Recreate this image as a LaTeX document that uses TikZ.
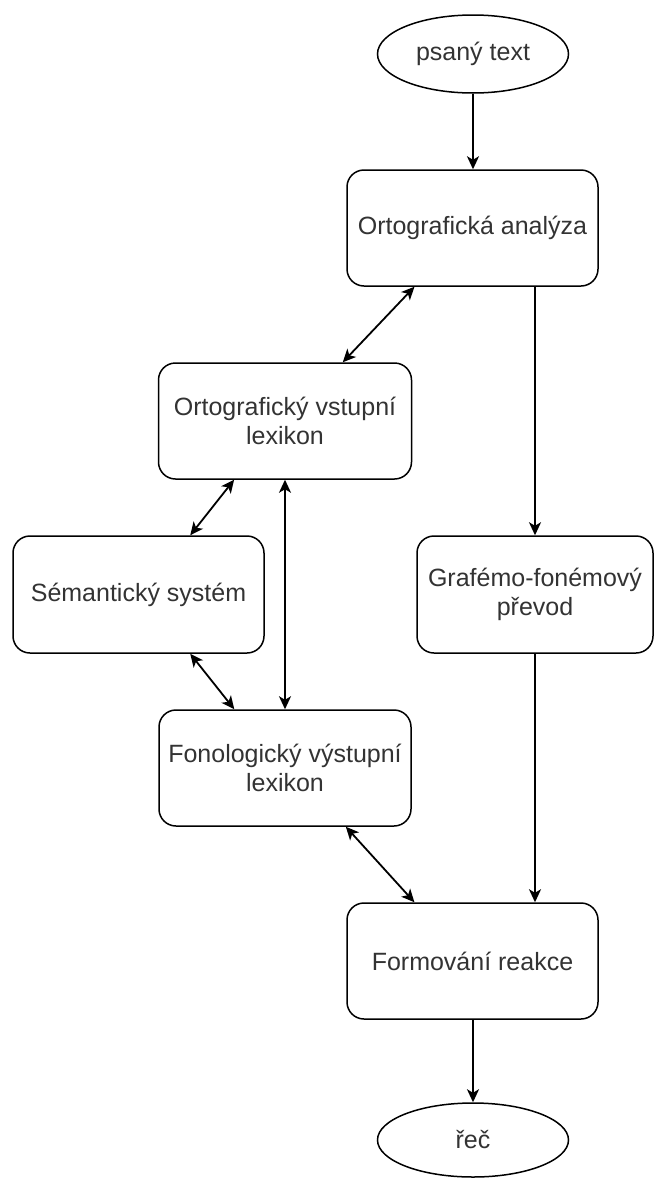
\documentclass[tikz,border=0pt]{standalone}
\usepackage{fontspec}
\setmainfont{Liberation Sans}
\usetikzlibrary{arrows.meta,shapes.geometric,calc}
\definecolor{txt}{HTML}{333333}
\tikzset{
  box/.style={draw=black, line width=1.5pt, rounded corners=17pt, minimum height=116pt, align=center, text=txt, font=\fontsize{25}{29}\selectfont, inner sep=0pt},
  oval/.style={draw=black, line width=1.5pt, ellipse, minimum width=191pt, align=center, text=txt, font=\fontsize{25}{29}\selectfont, inner sep=0pt},
  conn/.style={line width=1.8pt, -{Stealth[length=13pt,width=12pt,inset=3.5pt]}},
  biconn/.style={line width=1.8pt, {Stealth[length=13pt,width=12pt,inset=3.5pt]}-{Stealth[length=13pt,width=12pt,inset=3.5pt]}}
}
\begin{document}
\begin{tikzpicture}[x=1pt,y=-1pt]
\useasboundingbox (0,0) rectangle (654,1178);
\node[oval, minimum height=78pt] (e1) at (473,54) {psaný text};
\node[box, minimum width=251pt] (oa) at (472.5,228) {Ortografická analýza};
\node[box, minimum width=253pt] (ovl) at (285,421) {Ortografický vstupní\\lexikon};
\node[box, minimum width=251pt, minimum height=117pt] (sem) at (138.5,594.5) {Sémantický systém};
\node[box, minimum width=236pt, minimum height=117pt] (graf) at (535,594.5) {Grafémo-fonémový\\převod};
\node[box, minimum width=252pt] (fvl) at (285,768) {Fonologický výstupní\\lexikon};
\node[box, minimum width=251pt] (form) at (472.5,961) {Formování reakce};
\node[oval, minimum height=74pt] (e2) at (473,1140) {řeč};
% straight flow
\draw[conn] (e1.south) -- (e1.south |- oa.north);
\draw[conn] (graf.north |- oa.south) -- (graf.north);
\draw[conn] (graf.south) -- (graf.south |- form.north);
\draw[conn] (e2.north |- form.south) -- (e2.north);
% bidirectional links
\draw[biconn] ($(oa.south west)!0.27!(oa.south east)$) -- ($(ovl.north west)!0.727!(ovl.north east)$);
\draw[biconn] ($(ovl.south west)!0.30!(ovl.south east)$) -- ($(sem.north west)!0.705!(sem.north east)$);
\draw[biconn] (ovl.south) -- (ovl.south |- fvl.north);
\draw[biconn] ($(sem.south west)!0.705!(sem.south east)$) -- ($(fvl.north west)!0.30!(fvl.north east)$);
\draw[biconn] ($(fvl.south west)!0.74!(fvl.south east)$) -- ($(form.north west)!0.27!(form.north east)$);
\end{tikzpicture}
\end{document}
